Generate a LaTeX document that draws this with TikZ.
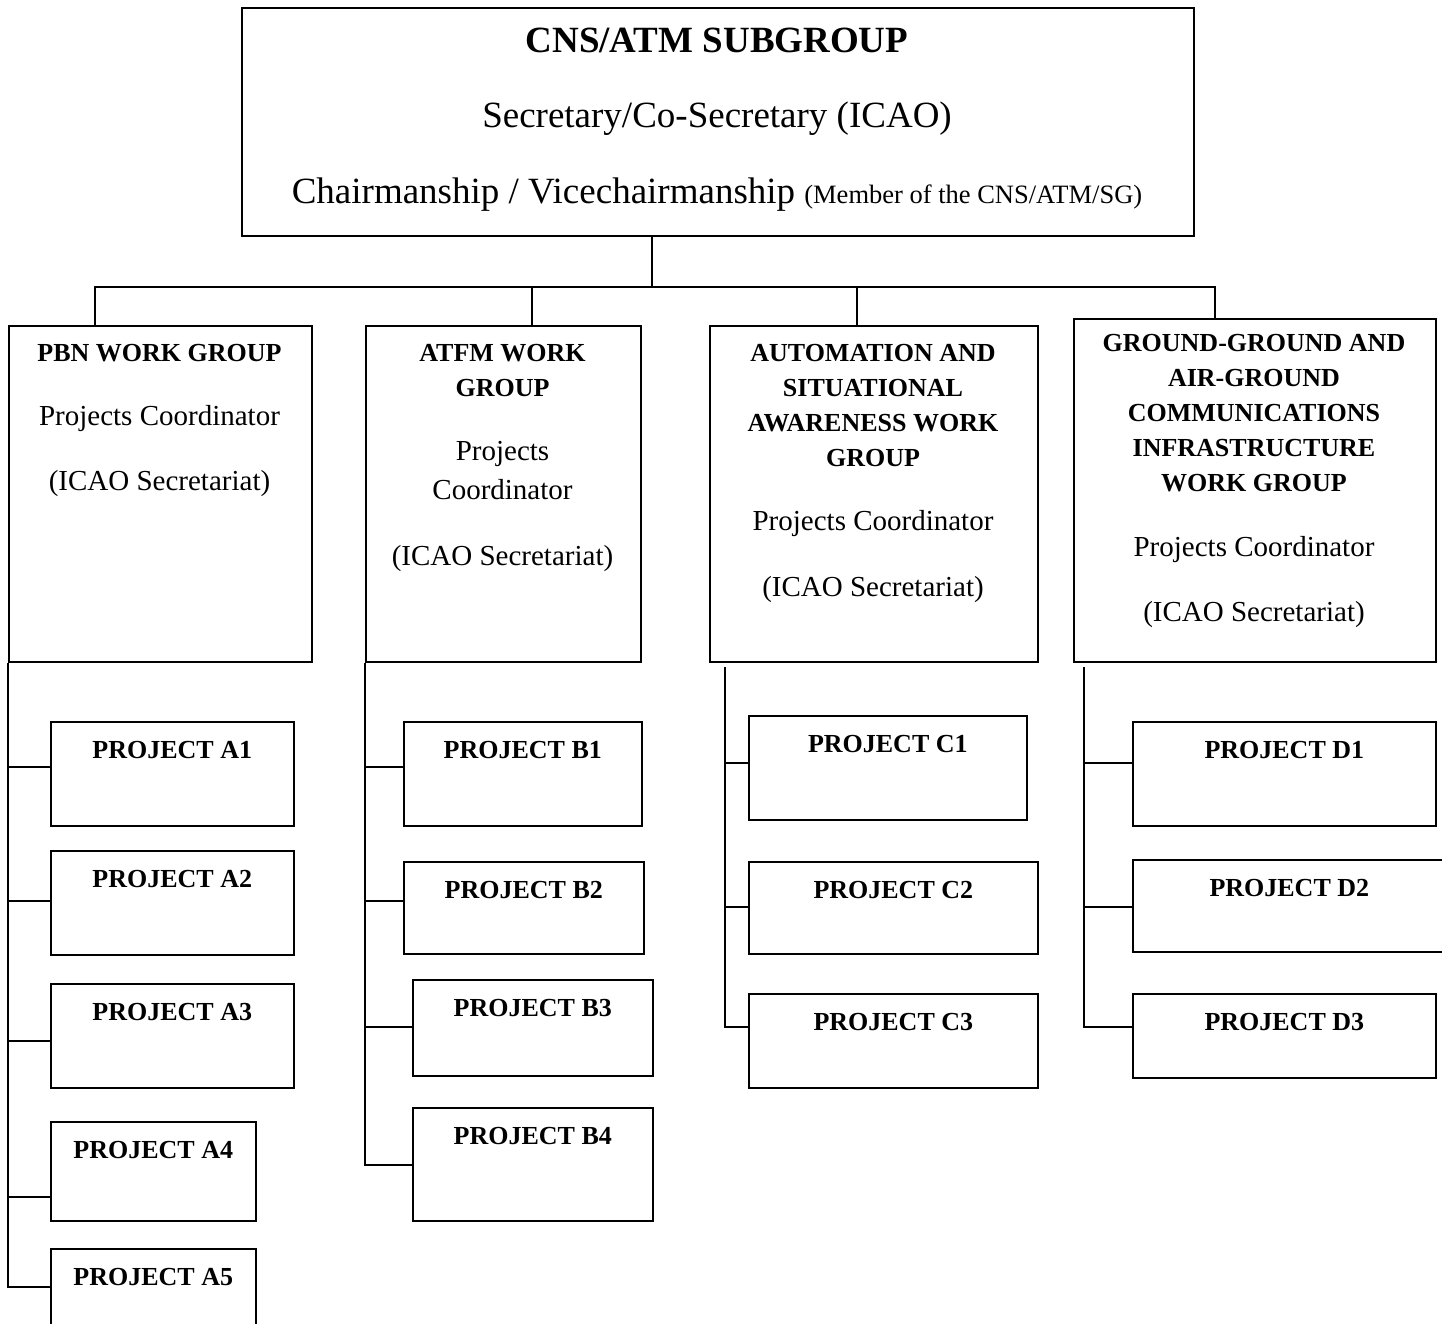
\documentclass[tikz,border=0pt]{standalone}
\usepackage{fontspec}
\setmainfont{Liberation Serif}
\newcommand\wgfont{\fontsize{26}{35}\selectfont\bfseries}
\newcommand\pcfont{\fontsize{29}{39}\selectfont}
\newcommand\subfont{\fontsize{37}{44}\selectfont}
\begin{document}
\begin{tikzpicture}[x=1pt, y=-1pt, line width=1.6pt,
    orgbox/.style={draw, inner sep=0pt, anchor=north west},
    prj/.style={orgbox, text height=37pt, font=\wgfont},
    wgtitle/.style={align=center, anchor=base, inner sep=0pt, font=\wgfont},
    wgtext/.style={align=center, anchor=base, inner sep=0pt, font=\pcfont}]
    \useasboundingbox (0,0) rectangle (1442,1324);
    % Subgroup
    \node[orgbox, minimum width=952, minimum height=228] (sub) at (241,7) {};
    \node[anchor=base, inner sep=0pt, font=\subfont\bfseries] (subname) at (717,53) {CNS/ATM SUBGROUP};
    \node[anchor=base, inner sep=0pt, font=\subfont] (secr) at (717,128) {Secretary/Co-Secretary (ICAO)};
    \node[anchor=base, inner sep=0pt, font=\subfont] (chair) at (717,204)
        {Chairmanship / Vicechairmanship {\fontsize{26.5}{30}\selectfont(Member of the CNS/ATM/SG)}};
    \coordinate (subout) at (sub.south -| 652,0);
    % Work groups (base = last line)
    \node[orgbox, minimum width=303, minimum height=336] (pbn) at (8,325) {};
    \node[orgbox, minimum width=275, minimum height=336] (atfm) at (365,325) {};
    \node[orgbox, minimum width=328, minimum height=336] (auto) at (709,325) {};
    \node[orgbox, minimum width=362, minimum height=343] (comm) at (1073,318) {};
    \node[wgtitle] (pbnT) at (159.5,361.5) {PBN WORK GROUP};
    \node[wgtext] (pbnC) at (159.5,425) {Projects Coordinator};
    \node[wgtext] (pbnS) at (159.5,490) {(ICAO Secretariat)};
    \node[wgtitle] (atfmT) at (502.5,396.5) {ATFM WORK\\GROUP};
    \node[wgtext] (atfmC) at (502.5,499.5) {Projects\\Coordinator};
    \node[wgtext] (atfmS) at (502.5,565) {(ICAO Secretariat)};
    \node[wgtitle] (autoT) at (873,466.5) {AUTOMATION AND\\SITUATIONAL\\AWARENESS WORK\\GROUP};
    \node[wgtext] (autoC) at (873,530.5) {Projects Coordinator};
    \node[wgtext] (autoS) at (873,596) {(ICAO Secretariat)};
    \node[wgtitle] (commT) at (1254,491.5) {GROUND-GROUND AND\\AIR-GROUND\\COMMUNICATIONS\\INFRASTRUCTURE\\WORK GROUP};
    \node[wgtext] (commC) at (1254,556.5) {Projects Coordinator};
    \node[wgtext] (commS) at (1254,621) {(ICAO Secretariat)};
    \foreach \g/\x in {pbn/95, atfm/532, auto/857, comm/1215}
        \draw (\g.north -| \x,0) |- (subout |- 0,287) -- (subout);
    % Projects
    \node[prj, minimum width=243, text depth=67pt] (a1) at (50,721) {PROJECT A1};
    \node[prj, minimum width=243, text depth=67pt] (a2) at (50,850) {PROJECT A2};
    \node[prj, minimum width=243, text depth=67pt] (a3) at (50,983) {PROJECT A3};
    \node[prj, minimum width=205, text depth=62pt] (a4) at (50,1121) {PROJECT A4};
    \node[prj, minimum width=205, text depth=63pt] (a5) at (50,1248) {PROJECT A5};
    \node[prj, minimum width=238, text depth=67pt] (b1) at (403,721) {PROJECT B1};
    \node[prj, minimum width=240, text depth=55pt] (b2) at (403,861) {PROJECT B2};
    \node[prj, minimum width=240, text depth=59pt] (b3) at (412,979) {PROJECT B3};
    \node[prj, minimum width=240, text depth=76pt] (b4) at (412,1107) {PROJECT B4};
    \node[prj, minimum width=278, text depth=67pt] (c1) at (748,715) {PROJECT C1};
    \node[prj, minimum width=289, text depth=55pt] (c2) at (748,861) {PROJECT C2};
    \node[prj, minimum width=289, text depth=57pt] (c3) at (748,993) {PROJECT C3};
    \node[prj, minimum width=303, text depth=67pt] (d1) at (1132,721) {PROJECT D1};
    \node[prj, minimum width=313, text depth=55pt] (d2) at (1132,859) {PROJECT D2};
    \node[prj, minimum width=303, text depth=47pt] (d3) at (1132,993) {PROJECT D3};
    \coordinate (cbus) at (725,667);
    \coordinate (dbus) at (1084,667);
    \foreach \p/\y in {a1/767, a2/901, a3/1041, a4/1197, a5/1287}
        \draw (pbn.south west) |- (\p.west |- 0,\y);
    \foreach \p/\y in {b1/767, b2/901, b3/1027, b4/1165}
        \draw (atfm.south west) |- (\p.west |- 0,\y);
    \foreach \p/\y in {c1/763, c2/907, c3/1027}
        \draw (cbus) |- (\p.west |- 0,\y);
    \foreach \p/\y in {d1/763, d2/907, d3/1027}
        \draw (dbus) |- (\p.west |- 0,\y);
\end{tikzpicture}
\end{document}
